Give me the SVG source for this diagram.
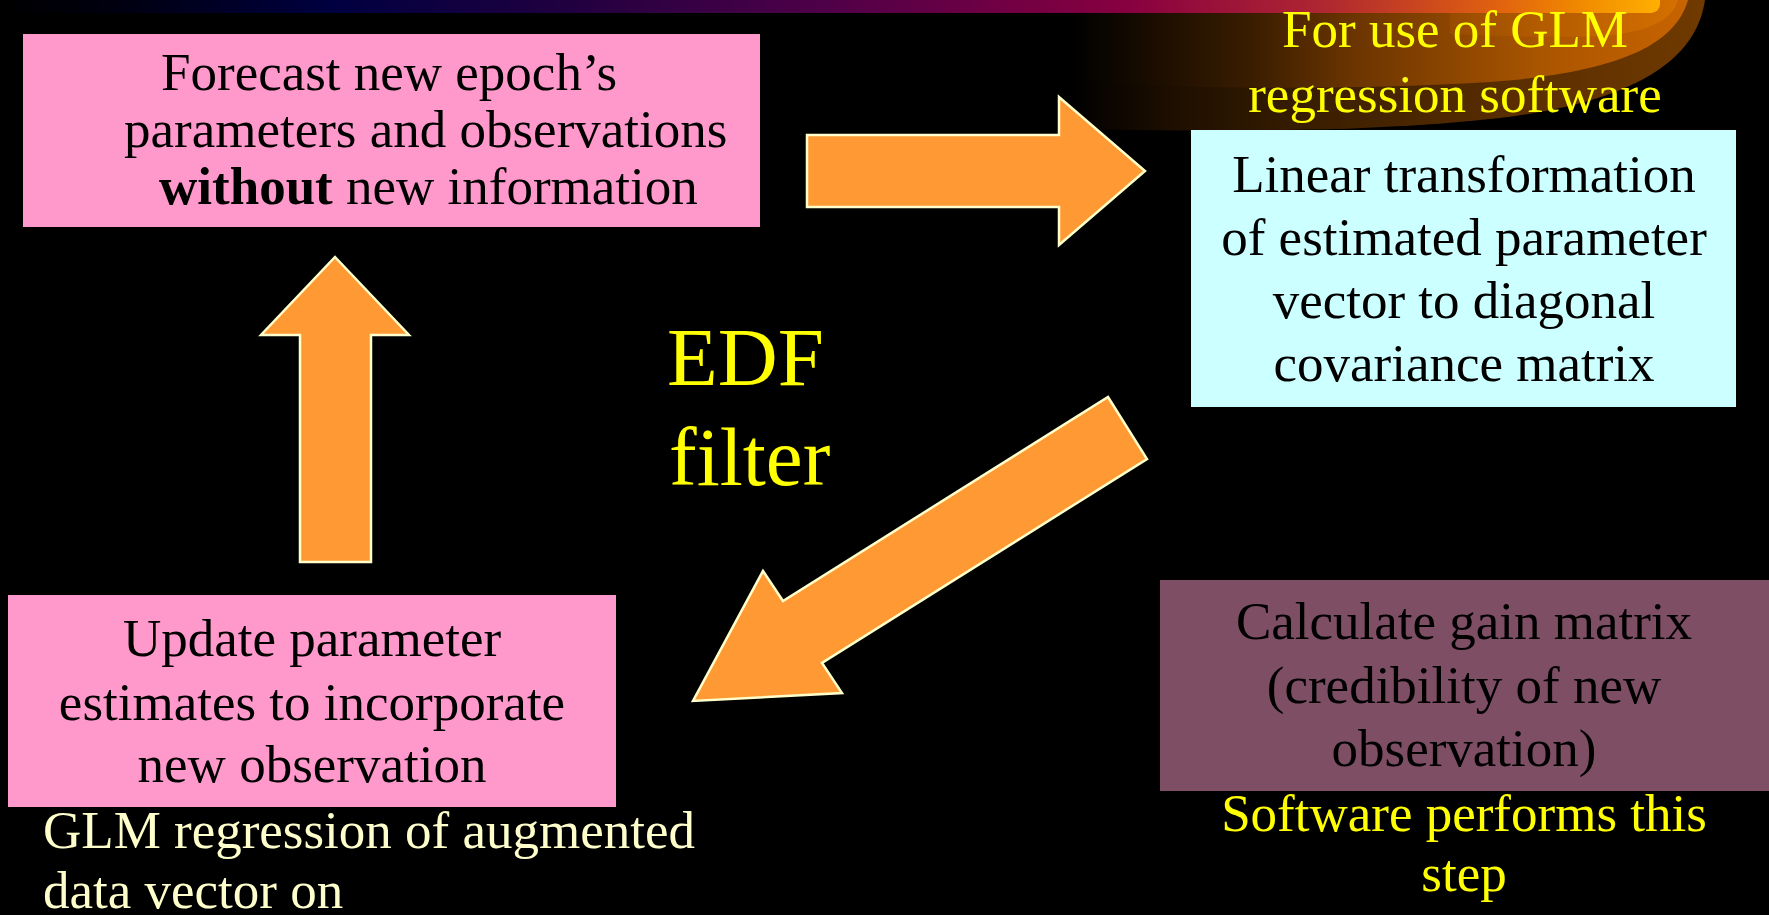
<svg xmlns="http://www.w3.org/2000/svg" width="1769" height="915" viewBox="0 0 1769 915">
<defs>
<linearGradient id="bar" x1="0" y1="0" x2="1660" y2="0" gradientUnits="userSpaceOnUse">
<stop offset="0" stop-color="#000000"/>
<stop offset="0.07" stop-color="#000010"/>
<stop offset="0.2" stop-color="#000040"/>
<stop offset="0.34" stop-color="#200040"/>
<stop offset="0.5" stop-color="#500048"/>
<stop offset="0.68" stop-color="#880040"/>
<stop offset="0.8" stop-color="#b02830"/>
<stop offset="0.9" stop-color="#e06010"/>
<stop offset="0.95" stop-color="#f08800"/>
<stop offset="1" stop-color="#ffb000"/>
</linearGradient>
<linearGradient id="sw1" x1="1072" y1="0" x2="1705" y2="0" gradientUnits="userSpaceOnUse">
<stop offset="0" stop-color="#000000"/>
<stop offset="0.15" stop-color="#1c0e00"/>
<stop offset="0.4" stop-color="#3c1f00"/>
<stop offset="0.7" stop-color="#5a2e00"/>
<stop offset="1" stop-color="#703a00"/>
</linearGradient>
<linearGradient id="sw2" x1="1072" y1="0" x2="1690" y2="0" gradientUnits="userSpaceOnUse">
<stop offset="0" stop-color="#000000"/>
<stop offset="0.3" stop-color="#3c1e00"/>
<stop offset="0.45" stop-color="#6a3400"/>
<stop offset="0.75" stop-color="#a85400"/>
<stop offset="1" stop-color="#c86400"/>
</linearGradient>
<linearGradient id="sw3" x1="1450" y1="0" x2="1680" y2="0" gradientUnits="userSpaceOnUse">
<stop offset="0" stop-color="#a05000"/>
<stop offset="1" stop-color="#e07800"/>
</linearGradient>
<style>
text{font-family:"Liberation Serif","Times New Roman",serif;font-size:53px}
.blk{fill:#000000}
.yel{fill:#ffff00}
.crm{fill:#ffffcc}
.mid{text-anchor:middle}
.arrow{fill:#ff9933;stroke:#ffffcc;stroke-width:2.5;stroke-linejoin:miter}
</style>
</defs>
<rect x="0" y="0" width="1769" height="915" fill="#000000"/>
<g id="background">
<path d="M1072,0 H1705 C1697,55 1645,100 1500,118 C1360,134 1180,131 1078,129 C1074,90 1072,40 1072,0 Z" fill="url(#sw1)"/>
<path d="M1072,0 H1688 C1676,42 1625,72 1490,82 C1320,92 1160,87 1072,82 Z" fill="url(#sw2)"/>
<path d="M1450,0 H1678 C1672,20 1650,32 1600,36 C1560,38 1500,36 1450,34 Z" fill="url(#sw3)" opacity="0.6"/>
<path d="M0,0 H1660 V4 A9,9 0 0 1 1651,13 H0 Z" fill="url(#bar)"/>
</g>
<g id="connectors">
<polygon class="arrow" points="807,135 1059,135 1059,97 1145,171 1059,245 1059,207 807,207"/>
<polygon class="arrow" points="335,257 409,335 371,335 371,562 300,562 300,335 261,335"/>
<polygon class="arrow" points="1108,397 1147,459 822,663 842,693 693,701 763,571 783,601"/>
</g>
<g id="node-forecast">
<rect x="23" y="34" width="737" height="193" fill="#ff99cc"/>
<text class="blk" x="161" y="90">Forecast new epoch’s</text>
<text class="blk" x="124" y="147">parameters and observations</text>
<text class="blk" x="159" y="204"><tspan font-weight="bold">without</tspan> new information</text>
</g>
<g id="node-glm-note">
<text class="yel mid" x="1455" y="47">For use of GLM</text>
<text class="yel mid" x="1455" y="112">regression software</text>
</g>
<g id="node-linear">
<rect x="1191" y="130" width="545" height="277" fill="#ccffff"/>
<text class="blk mid" x="1464" y="192">Linear transformation</text>
<text class="blk mid" x="1464" y="255">of estimated parameter</text>
<text class="blk mid" x="1464" y="318">vector to diagonal</text>
<text class="blk mid" x="1464" y="381">covariance matrix</text>
</g>
<g id="node-edf">
<text class="yel" x="667" y="385" style="font-size:83px">EDF</text>
<text class="yel" x="669" y="485" style="font-size:83px">filter</text>
</g>
<g id="node-update">
<rect x="8" y="595" width="608" height="212" fill="#ff99cc"/>
<text class="blk mid" x="312" y="656">Update parameter</text>
<text class="blk mid" x="312" y="720">estimates to incorporate</text>
<text class="blk mid" x="312" y="782">new observation</text>
<text class="crm" x="43" y="848">GLM regression of augmented</text>
<text class="crm" x="43" y="908">data vector on</text>
</g>
<g id="node-gain">
<rect x="1160" y="580" width="609" height="211" fill="#7e4e64"/>
<text class="blk mid" x="1464" y="639">Calculate gain matrix</text>
<text class="blk mid" x="1464" y="703">(credibility of new</text>
<text class="blk mid" x="1464" y="766">observation)</text>
<text class="yel mid" x="1464" y="831">Software performs this</text>
<text class="yel mid" x="1464" y="891">step</text>
</g>
</svg>
